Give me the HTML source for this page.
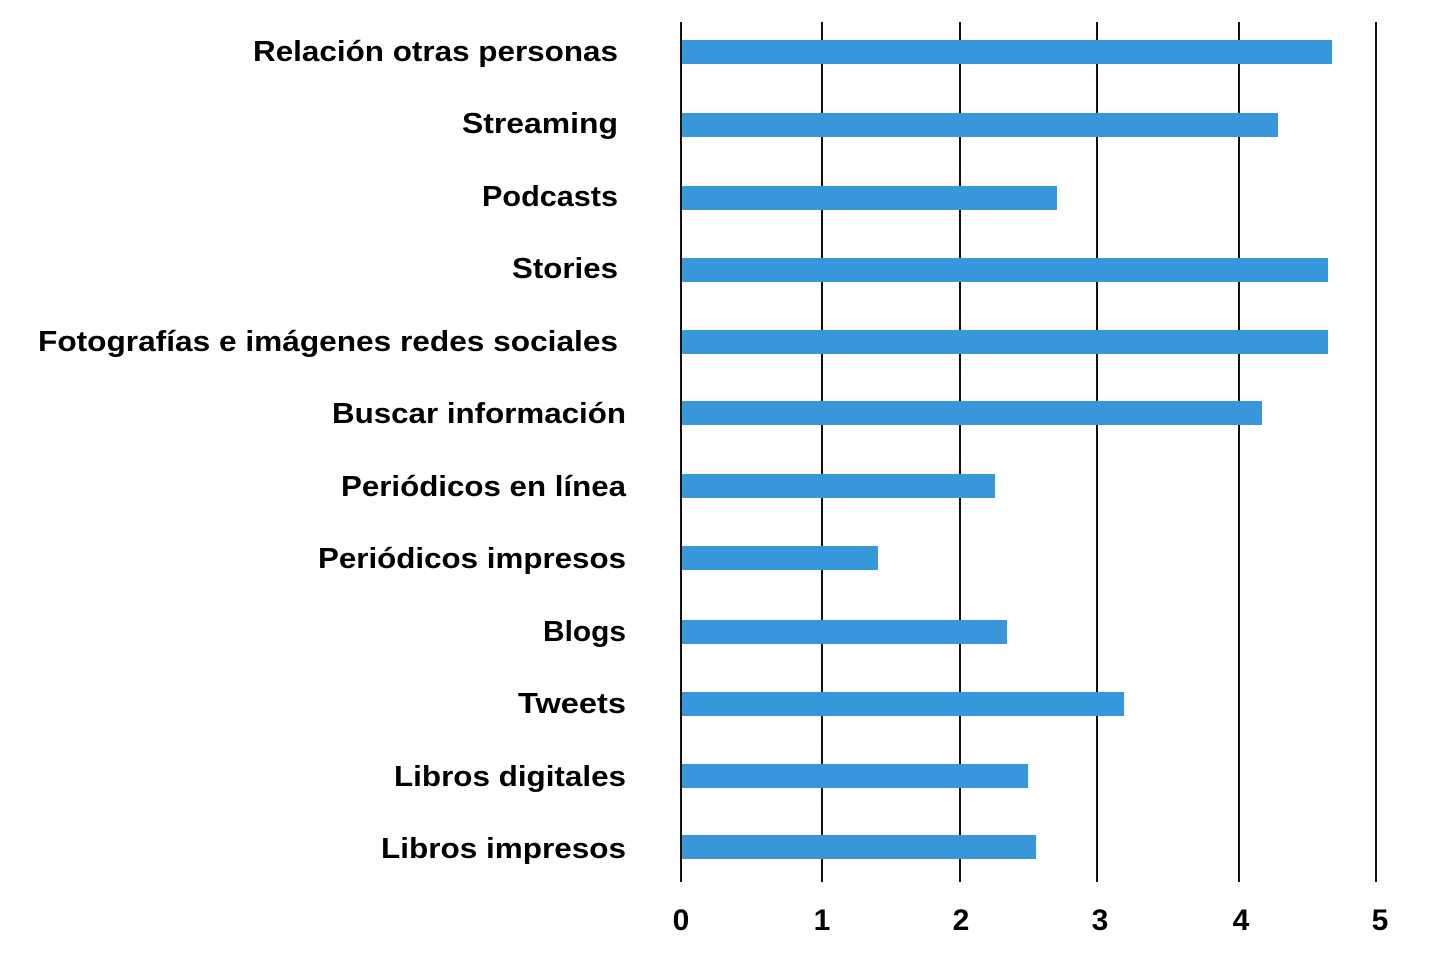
<!DOCTYPE html>
<html><head><meta charset="utf-8"><style>body{margin:0;background:#fff}svg{display:block}</style></head><body>
<svg width="1437" height="967" xmlns="http://www.w3.org/2000/svg">
<g stroke="#111" stroke-width="2">
<line x1="681" y1="22" x2="681" y2="882"/>
<line x1="822" y1="22" x2="822" y2="882"/>
<line x1="960" y1="22" x2="960" y2="882"/>
<line x1="1097" y1="22" x2="1097" y2="882"/>
<line x1="1239" y1="22" x2="1239" y2="882"/>
<line x1="1376" y1="22" x2="1376" y2="882"/>
</g>
<g fill="#3897db">
<rect x="682" y="40" width="650" height="24"/>
<rect x="682" y="113" width="596" height="24"/>
<rect x="682" y="186" width="375" height="24"/>
<rect x="682" y="258" width="646" height="24"/>
<rect x="682" y="330" width="646" height="24"/>
<rect x="682" y="401" width="580" height="24"/>
<rect x="682" y="474" width="313" height="24"/>
<rect x="682" y="546" width="196" height="24"/>
<rect x="682" y="620" width="325" height="24"/>
<rect x="682" y="692" width="442" height="24"/>
<rect x="682" y="764" width="346" height="24"/>
<rect x="682" y="835" width="354" height="24"/>
</g>
<g font-family="Liberation Sans, sans-serif" font-weight="bold" font-size="29" fill="#000" lengthAdjust="spacingAndGlyphs">
<text x="253" y="61" textLength="365" lengthAdjust="spacingAndGlyphs">Relación otras personas</text>
<text x="462" y="133" textLength="156" lengthAdjust="spacingAndGlyphs">Streaming</text>
<text x="482" y="206" textLength="136" lengthAdjust="spacingAndGlyphs">Podcasts</text>
<text x="512" y="278" textLength="106" lengthAdjust="spacingAndGlyphs">Stories</text>
<text x="38" y="351" textLength="580" lengthAdjust="spacingAndGlyphs">Fotografías e imágenes redes sociales</text>
<text x="332" y="423" textLength="294" lengthAdjust="spacingAndGlyphs">Buscar información</text>
<text x="341" y="496" textLength="285" lengthAdjust="spacingAndGlyphs">Periódicos en línea</text>
<text x="318" y="568" textLength="308" lengthAdjust="spacingAndGlyphs">Periódicos impresos</text>
<text x="543" y="641" textLength="83" lengthAdjust="spacingAndGlyphs">Blogs</text>
<text x="518" y="713" textLength="108" lengthAdjust="spacingAndGlyphs">Tweets</text>
<text x="394" y="786" textLength="232" lengthAdjust="spacingAndGlyphs">Libros digitales</text>
<text x="381" y="858" textLength="245" lengthAdjust="spacingAndGlyphs">Libros impresos</text>
</g>
<g font-family="Liberation Sans, sans-serif" font-weight="bold" font-size="30" fill="#000" text-anchor="middle">
<text x="681" y="930">0</text>
<text x="822" y="930">1</text>
<text x="961" y="930">2</text>
<text x="1100" y="930">3</text>
<text x="1241" y="930">4</text>
<text x="1380" y="930">5</text>
</g>
</svg>
</body></html>
